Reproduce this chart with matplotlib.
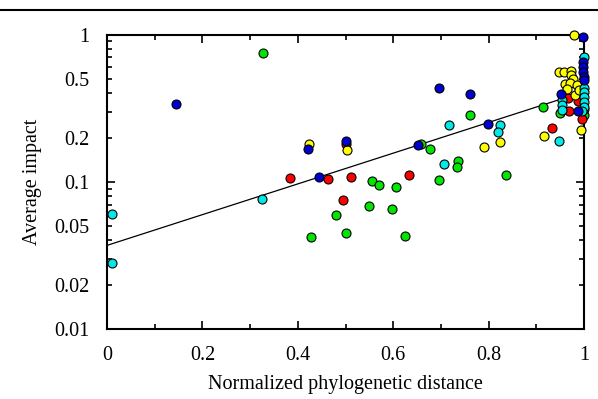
import numpy as np
import matplotlib
matplotlib.use("Agg")
import matplotlib.pyplot as plt
from matplotlib.ticker import LogLocator, FuncFormatter, MultipleLocator
from matplotlib.lines import Line2D

# points per colour: (normalized phylogenetic distance, average impact)
red_x = [0.384, 0.463, 0.512, 0.634, 0.495, 0.501, 0.932, 0.967, 0.968, 0.987, 0.995]
red_y = [0.107, 0.104, 0.108, 0.112, 0.0747, 0.182, 0.231, 0.373, 0.304, 0.354, 0.267]

green_x = [0.327, 0.658, 0.677, 0.556, 0.570, 0.605, 0.695, 0.480, 0.550, 0.598,
           0.427, 0.502, 0.624, 0.760, 0.736, 0.733, 0.836, 0.914, 0.950, 0.999, 1.0]
green_y = [0.747, 0.180, 0.167, 0.1007, 0.095, 0.092, 0.103, 0.0597, 0.0684, 0.0649,
           0.042, 0.0446, 0.043, 0.286, 0.139, 0.126, 0.1116, 0.322, 0.295, 0.286, 0.315]

yellow_x = [0.423, 0.504, 0.790, 0.824, 0.916, 0.994, 0.978,
            0.947, 0.958, 0.973, 0.973, 0.976, 0.961, 0.971, 0.965, 0.985, 0.982, 0.989]
yellow_y = [0.181, 0.164, 0.173, 0.186, 0.204, 0.225, 0.995,
            0.557, 0.557, 0.569, 0.535, 0.497, 0.462, 0.472, 0.430, 0.455, 0.389, 0.421]

cyan_x = [0.01, 0.01, 0.324, 0.716, 0.707, 0.824, 0.820, 0.947, 1.0,
          0.953, 0.953, 0.953, 0.999, 1.0, 1.0, 0.999, 0.999, 0.995]
cyan_y = [0.060, 0.028, 0.076, 0.243, 0.132, 0.244, 0.217, 0.190, 0.708,
          0.360, 0.333, 0.310, 0.432, 0.409, 0.379, 0.350, 0.324, 0.305]

blue_x = [0.144, 0.422, 0.500, 0.444, 0.651, 0.695, 0.760, 0.799, 0.997,
          0.997, 0.997, 0.997, 0.999, 0.999, 0.951, 0.987]
blue_y = [0.336, 0.166, 0.190, 0.108, 0.178, 0.434, 0.393, 0.246, 0.970,
          0.650, 0.600, 0.560, 0.518, 0.490, 0.395, 0.303]

# regression line end points
fit_x = [0.0, 1.0]
fit_y = [0.037, 0.41]

plt.rcParams['font.family'] = ['Liberation Serif', 'DejaVu Serif']

fig = plt.figure(figsize=(5.98, 3.99), dpi=100)
ax = fig.add_axes([107 / 598, 1 - 329 / 399, 477 / 598, (329 - 34.7) / 399])

# rule across the top of the page
fig.add_artist(Line2D([0, 1], [1 - 10 / 399] * 2, color='black', lw=1.5,
                      transform=fig.transFigure))

ax.plot(fit_x, fit_y, color='black', lw=0.9, zorder=2)

groups = [(green_x, green_y, '#00e600'),
          (red_x, red_y, '#ff0000'),
          (yellow_x, yellow_y, '#ffff00'),
          (cyan_x, cyan_y, '#00e8e8'),
          (blue_x, blue_y, '#0000d0')]
for gx, gy, col in groups:
    ax.scatter(gx, gy, s=42, c=col, edgecolors='black', linewidths=0.8,
               zorder=3, clip_on=False)

ax.set_xlim(0, 1)
ax.set_yscale('log')
ax.set_ylim(0.01, 1)

ax.xaxis.set_major_locator(MultipleLocator(0.2))
ax.xaxis.set_minor_locator(MultipleLocator(0.1))
ax.xaxis.set_major_formatter(FuncFormatter(lambda v, p: '%g' % round(v, 2)))

ax.yaxis.set_major_locator(LogLocator(base=10))
ax.yaxis.set_minor_locator(LogLocator(base=10, subs=np.arange(2, 10)))
ax.yaxis.set_major_formatter(FuncFormatter(lambda v, p: '%g' % v))


def minor_fmt(v, p):
    m = v / 10 ** np.floor(np.log10(v) + 1e-9)
    if abs(m - 2) < 0.01 or abs(m - 5) < 0.01:
        return '%g' % v
    return ''


ax.yaxis.set_minor_formatter(FuncFormatter(minor_fmt))

ax.tick_params(which='both', direction='in', top=True, right=True,
               labelsize=14.5, pad=12.5, width=1.2)
ax.tick_params(which='major', length=6)
ax.tick_params(which='minor', length=3.5)
for sp in ax.spines.values():
    sp.set_linewidth(1.5)

ax.set_xlabel('Normalized phylogenetic distance', fontsize=14.5, labelpad=7)
ax.set_ylabel('Average impact', fontsize=14.5, labelpad=9)

fig.savefig('out.png', dpi=100)
